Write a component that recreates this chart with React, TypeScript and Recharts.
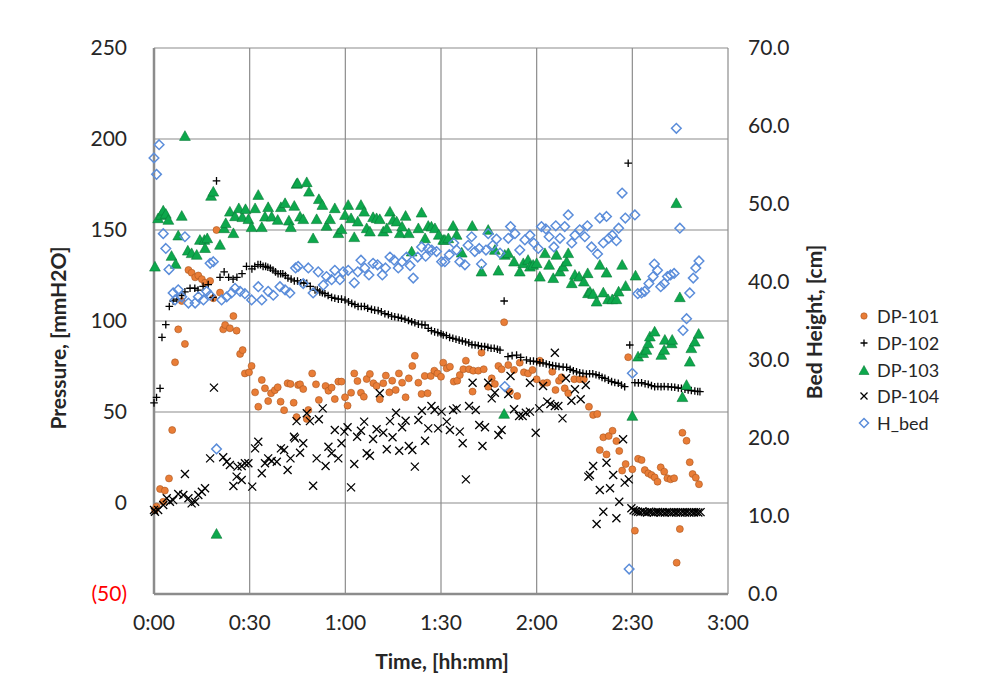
import React from "react";
import {
  ScatterChart,
  Scatter,
  XAxis,
  YAxis,
  CartesianGrid,
  Legend,
} from "recharts";

// time in minutes
const xTicks = [0, 30, 60, 90, 120, 150, 180];
const xTickLabels = ["0:00", "0:30", "1:00", "1:30", "2:00", "2:30", "3:00"];
const leftTicks = [-50, 0, 50, 100, 150, 200, 250];
const rightTicks = [0, 10, 20, 30, 40, 50, 60, 70];

const dp101 = [
  [0.3, -3.8], [0.8, -2], [1.9, 7.7], [2.9, 0.7], [3.4, 6.8], [4.7, 13.5], [5.7, 40.1], [6.6, 77.3],
  [7.6, 95.4], [8.7, 111], [9.7, 87.4], [10.8, 128], [11.8, 126.5], [12.9, 124], [13.9, 125], [15, 123],
  [16, 121], [17.6, 122], [18.6, 112.5], [19.6, 150], [20.7, 115.6], [21.7, 95.4], [22.3, 97.8], [23.8, 96],
  [24.9, 102.7], [25.9, 94.7], [27, 81.9], [27.8, 84], [28.5, 71.2], [29.8, 71.8], [30.6, 75.3], [31.7, 60.8],
  [32.7, 52.9], [33.8, 67.6], [34.8, 63], [35.8, 56], [36.7, 60.3], [37.9, 62], [38.8, 63.6], [39.7, 55.7],
  [40.8, 51], [41.9, 65.8], [42.8, 65.4], [43.8, 55.1], [44.7, 47.2], [45.2, 64.8], [45.8, 65.2], [46.8, 62.6],
  [47.9, 46.2], [48.4, 51.1], [49.6, 71.2], [50.8, 65.2], [51.7, 56.6], [53.8, 64.3], [54.7, 61.7], [55.7, 63.4],
  [56.7, 57.1], [57.8, 66.7], [58.8, 66.7], [59.9, 58.1], [60.7, 53.5], [61.8, 60.6], [62.8, 71.2], [63.8, 67],
  [64.9, 60.6], [65.8, 58.4], [66.7, 68.1], [67.7, 70.9], [68.8, 65.8], [69.8, 64.3], [70.8, 57], [71.9, 65.8],
  [72.7, 70], [73.8, 60.8], [74.7, 67.2], [75.8, 62.1], [76.8, 71.2], [77.8, 66.1], [78.9, 58.1], [79.9, 68.5],
  [81, 75.3], [81.8, 80.9], [82.9, 66.1], [83.9, 59.9], [84.9, 69.8], [85.8, 60.3], [86.8, 69.8], [87.9, 72.7],
  [88.9, 71.2], [90, 69.4], [90.7, 77.1], [91.8, 74], [92.8, 74.9], [94, 66.7], [95.1, 67.2], [95.9, 70.3],
  [97, 73.5], [97.8, 78.2], [98.8, 73.5], [99.9, 61.2], [100.1, 72.7], [101.7, 72.7], [102.7, 82.6], [103.4, 73.5],
  [104.8, 63.9], [105.9, 68.5], [106.9, 65.4], [108, 75.3], [109, 73.5], [109.8, 99.3], [111.1, 75.8], [111.6, 61.2],
  [112.9, 73.1], [113.9, 58.8], [114.7, 77.1], [116, 71.8], [117.3, 71.2], [118.7, 73.1], [120, 68], [121, 78.2],
  [122, 65.8], [123.3, 66.1], [124.9, 72.1], [125.9, 62.1], [127, 67.2], [127.8, 69.1], [128.8, 63], [129.9, 60.3],
  [131.8, 68], [133.5, 68], [134.8, 68], [136.4, 52.9], [137.7, 48.4], [139, 48.9], [139.8, 29.1], [140.9, 36.1],
  [141.9, 26.7], [142.6, 36.8], [143.8, 39.7], [145, 34], [145.9, 28.6], [146.8, 17.8], [147.9, 21.4], [148.7, 80.1],
  [150, 18.5], [150.8, -15.2], [151.8, 24.3], [152.9, 23.6], [153.9, 18.1], [155, 16.3], [156, 15.4], [157, 14.1],
  [157.9, 11.7], [158.9, 19.6], [160, 17.2], [161, 13.6], [162, 13], [163.1, 13.6], [163.9, -32.8], [164.9, -14.3],
  [165.7, 38.6], [167, 34.2], [168, 22.4], [168.9, 15.9], [169.9, 13.9], [170.9, 10.3],
];

const dp102 = [
  [0, 55], [0.8, 58], [1.9, 63], [2.5, 91], [3.7, 98], [4.8, 108], [6, 111], [7.2, 112], [8.7, 114], [9.7, 116],
  [11.3, 118], [12.8, 118], [13.8, 117], [15.4, 119], [17, 120], [18.5, 113], [19.6, 177], [20.7, 124], [22, 127],
  [23.4, 124], [24.8, 123], [26, 124], [27.6, 126], [29, 130], [30.7, 128.6], [31.6, 130], [32.6, 131], [33.4, 131],
  [34.2, 130], [35, 130], [35.7, 129.5], [36.5, 129], [37.3, 128], [38.1, 127], [38.9, 126], [39.7, 126], [40.4, 126],
  [41.2, 125], [42, 123.6], [43, 123], [44, 122], [45, 122], [46, 121], [47, 121], [47.9, 120.7], [49, 119],
  [50.5, 117], [51.2, 117], [52, 116], [52.8, 115.5], [53.6, 115], [54.6, 114], [55.7, 113], [56.7, 112.5],
  [57.8, 112], [58.8, 112], [59.9, 111.5], [61, 110.5], [62, 109.7], [63, 109], [64, 108], [65, 108], [66, 108],
  [67, 107], [68.2, 106.4], [69.2, 106], [70.3, 105.7], [71.3, 105], [72.4, 104], [73.5, 103.5], [74.5, 102.7],
  [75.5, 102.3], [76.6, 102], [77.6, 101.5], [78.7, 101], [79.8, 100.3], [80.8, 99.6], [81.8, 99], [82.9, 98.3],
  [84, 98], [85, 97.8], [86, 96], [87, 94.7], [88, 94], [89, 93.6], [90, 93], [90.7, 92.3], [91.7, 92], [92.7, 91],
  [93.7, 90.5], [94.7, 90], [95.7, 89.5], [96.7, 89], [97.7, 88.5], [98.7, 88], [99.7, 87], [100.7, 86.8],
  [101.7, 86.5], [102.7, 86], [103.7, 86], [104.7, 85.5], [105.7, 85], [106.7, 85], [107.7, 84.5], [108.5, 84],
  [109.8, 111], [111, 80.4], [112.3, 81], [113.7, 81.3], [115, 80], [116.8, 78.6], [118, 78], [119, 78], [120, 77.6],
  [121, 77], [122, 77], [123, 76.4], [124, 76], [125, 75.5], [126, 75.3], [127, 75], [128.3, 74.7], [129.4, 74.5],
  [130.5, 73.5], [131.5, 72.7], [132.5, 72.1], [133.5, 71.5], [134.5, 71.2], [135.6, 70.9], [136.6, 71], [137.6, 71],
  [138.6, 70.5], [139.6, 70], [140.5, 69], [141.4, 68.5], [142.5, 67.5], [143.5, 66.7], [144.5, 66.2], [145.6, 65.8],
  [146.6, 64.8], [147.6, 63.9], [148.7, 186.7], [149.2, 86.8], [150.8, 66.1], [151.9, 66], [152.9, 66.1], [154, 65.5],
  [155, 65.2], [156, 64.5], [157, 63.9], [158, 64], [159, 63.9], [160, 64], [161.2, 63.9], [162.3, 63.7], [163.3, 63.6],
  [164.4, 63.2], [165.4, 63], [166.5, 62.5], [167.5, 62.1], [168.5, 61.8], [169.6, 61.5], [170.5, 61.3], [171.2, 61.2],
];

const dp103 = [
  [0.3, 129.8], [1.3, 156.4], [2.2, 158.2], [2.9, 160.6], [3.7, 158.8], [4.5, 155.5], [5.5, 135.7], [6.8, 131.3],
  [7.6, 146.9], [8.7, 157.7], [9.7, 201.6], [10.6, 138.6], [11.8, 137.2], [13.4, 136.3], [14.4, 144.5], [15.8, 144.5],
  [16, 140], [16.7, 145.4], [17.9, 168.7], [18.6, 171], [19.6, -17], [20.7, 141.8], [22, 150.9], [22.5, 153.7],
  [23.8, 160], [24.9, 148.2], [25.4, 157.5], [26.6, 161.9], [27.7, 157], [28.7, 161.4], [29.6, 155.9], [30.6, 151.5],
  [31.7, 161.9], [32.7, 169.2], [33.8, 151.5], [34.8, 157.3], [35.8, 162.5], [36.9, 157.3], [38.8, 155.5], [39.8, 162.5],
  [41.1, 164.7], [42.3, 155.1], [42.9, 151.5], [44, 163.2], [44.7, 175.3], [45, 175.7], [45.8, 157.3], [46.8, 155.9],
  [47.9, 176.2], [48.6, 171], [49.9, 145.4], [51, 155.9], [51.7, 166.9], [52.8, 163.7], [54.1, 152.2], [55.2, 155.9],
  [56.7, 161.9], [57.8, 148.2], [58.8, 150.4], [59.9, 158.2], [60.9, 163.7], [61.8, 156.4], [62.8, 146], [63.9, 154.6],
  [64.9, 163.7], [65.9, 160], [66.7, 150.9], [67.7, 149.1], [68.7, 157], [69.8, 156.4], [70.8, 155.9], [71.9, 149.1],
  [73, 150.9], [74, 160], [75, 155.5], [76.1, 154.6], [77.1, 148.2], [77.8, 151.8], [78.9, 157.7], [79.9, 148.2],
  [80.8, 138.1], [82.9, 150.9], [83.9, 159.5], [85, 145.4], [86, 152.2], [87, 151.8], [88.1, 150.9], [89.3, 147.3],
  [90.7, 144.5], [91.2, 144.5], [92.3, 145.4], [93.8, 152.2], [94.9, 147.3], [96.5, 137.5], [99.8, 152.2], [102.7, 127.1],
  [104.8, 150], [106.9, 139], [108, 127.6], [109.8, 48.9], [110, 136.3], [111.1, 137.2], [112.9, 132.6], [114.7, 127.1],
  [115.8, 131.7], [117.3, 133.5], [117.9, 129.8], [118.9, 130.8], [120, 131.7], [121, 124.3], [122.6, 137.2], [123.9, 130.8],
  [125.2, 123.5], [126.2, 136.3], [127.3, 127.1], [128.3, 129.8], [129.4, 132.6], [129.9, 137.2], [131, 120.7], [132, 125.3],
  [133.3, 124.3], [134.8, 121.6], [136, 126.2], [136.1, 115.2], [136.7, 116.1], [137.7, 114.8], [138.8, 110.6], [139.8, 130.8],
  [140.9, 115.6], [141.9, 126.5], [142.4, 111.9], [143.7, 111.9], [145, 111.9], [145.7, 116.1], [146.8, 130.8], [147.9, 119.2],
  [150, 47.8], [151, 124.9], [151.8, 80.4], [153.4, 82.3], [154.4, 84.1], [155, 87.7], [155.5, 91.4], [157, 94.1],
  [159.1, 81.3], [160, 84.1], [160.2, 89.6], [162.3, 87.7], [162.5, 89.6], [163.8, 164.7], [164.9, 113], [165.7, 58.1],
  [167, 64.8], [168, 77.6], [168.5, 85], [169.6, 88.6], [170.8, 92.9],
];

const dp104 = [
  [0, -3.8], [0.3, -4.8], [1.3, -3.8], [2.9, -1.1], [4, 2.6], [5, 0.7], [6, 1.6], [7.6, 4.9], [9.2, 4.4], [9.7, 15.9],
  [10.8, 2.6], [11.8, -0.2], [12.9, 0.7], [13.9, 4.4], [15, 6.2], [16, 8.1], [17.6, 24.5], [18.8, 63.4], [21.7, 25.1],
  [22.8, 22.7], [23.8, 20.9], [24.9, 9.3], [25.9, 14.5], [26.2, 20], [27.5, 20.3], [27.5, 12.6], [28.5, 21.8], [29.6, 21.8],
  [30.8, 9], [31.7, 30], [32.7, 33.7], [33.8, 16.3], [34.8, 21.8], [35.8, 24.5], [36.9, 23.1], [38.5, 22.7], [39.8, 30],
  [40.8, 29.1], [41.9, 18.1], [42.8, 24.5], [43.9, 36.4], [44.2, 35.5], [44.7, 45], [45.8, 27.6], [46.8, 32.8], [47.9, 49.3],
  [48.9, 45], [49.9, 9.5], [51, 24.5], [51.7, 46], [52.9, 52], [53.8, 20.3], [54.7, 30.9], [55.7, 27.3], [56.7, 40.1],
  [57.8, 24.5], [58.8, 32.8], [59.7, 39.2], [60.7, 41.6], [61.8, 8.6], [62.8, 21.4], [63.7, 36.4], [64.9, 39.7], [65.9, 44.7],
  [66.7, 27.3], [67.7, 26], [68.7, 35.2], [69.8, 40.5], [70.8, 60.3], [71.9, 38.6], [73, 29.5], [74, 45], [74.8, 36.1],
  [75.9, 49.6], [76.9, 28.7], [77.8, 41.6], [78.9, 45.2], [79.9, 31.3], [81, 29.1], [81.8, 20], [82.9, 45.6], [84, 50.7],
  [85, 34.2], [86, 41], [87, 53.3], [88, 51.1], [89.1, 41], [90.2, 50.2], [91.8, 44.7], [92.8, 40.1], [93.8, 51.1], [94.9, 52],
  [95.9, 39.2], [96.8, 32.8], [97.8, 13], [98.8, 53.3], [99.9, 66.1], [100.9, 51.1], [102, 42.9], [103, 31.3], [103.8, 41.6],
  [104.8, 66.1], [105.9, 57.5], [106.9, 60.6], [108, 37.4], [109, 40.1], [111.1, 59.9], [111.8, 69.8], [112.9, 51.5],
  [114.5, 47.8], [115.6, 47.8], [116.6, 49.6], [117.9, 50.2], [117.9, 66.1], [119.7, 38.6], [120.8, 52], [122, 64.3],
  [123.3, 55.7], [124.3, 54.4], [125.7, 82.6], [125.7, 53.3], [126.8, 53.3], [128.1, 46.5], [129.2, 68.5], [130.9, 56.2],
  [132, 62.5], [133.8, 57], [135.4, 64.8], [136.2, 14.5], [136.7, 15.4], [137.7, 20.3], [138.8, -11.5], [139.8, 7.1],
  [140.9, -4.8], [141.9, 22.1], [143, 8.1], [144, 15.4], [145, -8.4], [145.9, 0.7], [147.1, 35], [147.6, 11.2], [148.9, 13],
  [149.7, -2.9], [150.4, -4], [151.1, -4.5], [151.8, -4.8], [152.5, -5], [153.2, -4.6], [153.9, -5], [154.6, -5.2],
  [155.3, -4.8], [156, -5], [156.7, -5.3], [157.4, -5], [158.1, -4.9], [158.8, -5.2], [159.5, -5], [160.2, -5.3], [160.9, -5],
  [161.6, -5.1], [162.3, -5.3], [163, -5], [163.7, -5.2], [164.4, -5], [165.1, -5.3], [165.8, -5], [166.5, -5.2], [167.2, -5],
  [167.9, -5.3], [168.6, -5], [169.3, -5.2], [170, -5], [170.7, -5.2], [171.4, -5],
];

// bed height in cm (right axis)
const hBed = [
  [0, 55.9], [0.8, 53.8], [1.6, 57.6], [2.9, 46.2], [3.7, 44.3], [4.7, 41.6], [6, 38.6], [6.6, 37.7], [7.6, 39], [8.7, 38.1],
  [9.7, 45.8], [10.8, 37.3], [12.9, 37.3], [13.9, 38.1], [15.5, 37.7], [16.5, 38.8], [17.6, 42.4], [17.6, 38.3], [18.6, 42.6],
  [19.6, 18.6], [21.2, 37.7], [22.8, 38.1], [24.3, 38.6], [25.4, 39.2], [27, 38.8], [28.5, 38.5], [30.6, 37.7], [32.7, 39.4],
  [33.8, 37.7], [35.8, 38.8], [37.4, 38.3], [39.5, 39.4], [41.1, 39], [42.6, 38.6], [44.4, 41.8], [45.2, 42], [46.8, 39.8],
  [48.4, 41.8], [49.9, 38.6], [51.5, 41.3], [53.1, 39.6], [54.1, 40.7], [55.7, 40.3], [56.7, 41.5], [58.3, 40.3], [59.3, 41.3],
  [60.9, 41.5], [62.8, 39.9], [63.9, 41.3], [64.9, 42.8], [66.1, 41.8], [67.4, 40.9], [68.7, 42.4], [70.1, 42.2], [71.6, 40.9],
  [72.6, 41.8], [74, 43.2], [75.3, 42.8], [76.6, 41.8], [77.8, 42.6], [79.2, 43.2], [80.3, 42.1], [81.3, 40.5], [82.7, 43.2],
  [83.9, 44.5], [85.2, 43.3], [86, 44.3], [87.1, 44.1], [88.6, 43.9], [90.2, 42.6], [91.2, 42.6], [92.6, 43.5], [94, 45],
  [94.9, 44.1], [95.9, 42.6], [97.5, 42.2], [98.5, 44.7], [99.6, 45.8], [100.6, 43.9], [102, 44.3], [102.7, 42.3], [104.1, 44.1],
  [104.8, 46.2], [106.2, 44.7], [107.4, 45.5], [108.5, 43.7], [110, 26.6], [111.1, 45.6], [111.8, 47.1], [113.2, 46.2],
  [114.7, 44.1], [116.3, 45.4], [117.9, 46], [119.1, 45], [120.5, 44.3], [121.5, 47.1], [122.9, 46.8], [123.9, 45.8],
  [125.4, 44.5], [126, 47.2], [127.3, 45.6], [128.8, 47.1], [129.9, 48.6], [131, 45], [132, 46], [133.5, 46.7], [135.1, 45.8],
  [135.9, 47.2], [137.2, 44.5], [139.1, 43.6], [139.8, 48.2], [140.9, 45], [141.9, 48.4], [142.6, 45.6], [143.7, 46], [145, 45.3],
  [145.7, 46.9], [146.8, 51.4], [147.8, 48.2], [149, 3.2], [150, 28.3], [150.8, 48.6], [151.7, 38.5], [152.9, 38.6], [153.9, 38.8],
  [155.2, 39.8], [156.5, 40.7], [156.9, 42.3], [157.9, 41.5], [158.9, 39.4], [160, 39.8], [161, 40.7], [162, 40.9], [163.1, 41.1],
  [163.8, 59.7], [164.9, 46.9], [165.9, 33.8], [167, 35.3], [168, 38.6], [169.1, 40.5], [169.9, 41.8], [170.9, 42.7],
];

const toPoints = (arr: number[][]) => arr.map(([t, v]) => ({ t, v }));

const FONT = "Lato, 'Liberation Sans', sans-serif";
const TEXT = "#262626";
const GRID = "#8c8c8c";
const TICK_SIZE = 21;
const TITLE_SIZE = 21;

const ORANGE = "#E97D37";
const ORANGE_EDGE = "#A9561F";
const GREEN = "#0DA84C";
const GREEN_EDGE = "#0A7A37";
const BLUE = "#5B8DDA";

const circle = (cx: number, cy: number, r = 3.5) => (
  <circle cx={cx} cy={cy} r={r} fill={ORANGE} stroke={ORANGE_EDGE} strokeWidth={0.6} />
);
const plus = (cx: number, cy: number, a = 3.8) => (
  <path d={`M${cx - a},${cy}H${cx + a}M${cx},${cy - a}V${cy + a}`} stroke="#000" strokeWidth={1.3} fill="none" />
);
const triangle = (cx: number, cy: number, s = 5.4) => (
  <path
    d={`M${cx},${cy - s}L${cx + s},${cy + s * 0.8}L${cx - s},${cy + s * 0.8}Z`}
    fill={GREEN}
    stroke={GREEN_EDGE}
    strokeWidth={0.6}
  />
);
const cross = (cx: number, cy: number, a = 4) => (
  <path d={`M${cx - a},${cy - a}L${cx + a},${cy + a}M${cx - a},${cy + a}L${cx + a},${cy - a}`} stroke="#000" strokeWidth={1.3} fill="none" />
);
const diamond = (cx: number, cy: number, s = 4.8) => (
  <path d={`M${cx},${cy - s}L${cx + s},${cy}L${cx},${cy + s}L${cx - s},${cy}Z`} fill="none" stroke={BLUE} strokeWidth={1.5} />
);

const legendItems = [
  { name: "DP-101", mark: () => circle(7, 7, 3.2) },
  { name: "DP-102", mark: () => plus(7, 7, 3.5) },
  { name: "DP-103", mark: () => triangle(7, 7.5, 5) },
  { name: "DP-104", mark: () => cross(7, 7, 3.5) },
  { name: "H_bed", mark: () => diamond(7, 7, 4.5) },
];

const LeftTick = (props: any) => {
  const { x, y, payload } = props;
  const v = payload.value;
  return (
    <text x={x} y={y} dy="0.355em" textAnchor="end" fontSize={TICK_SIZE} fontFamily={FONT} fill={v < 0 ? "#FF0000" : TEXT}>
      {v < 0 ? `(${Math.abs(v)})` : v}
    </text>
  );
};

const renderLegend = () => (
  <div style={{ fontFamily: FONT, fontSize: 18, color: TEXT }}>
    {legendItems.map((it) => (
      <div key={it.name} style={{ display: "flex", alignItems: "center", height: 26.7 }}>
        <svg width={14} height={14} style={{ overflow: "visible" }}>
          {it.mark()}
        </svg>
        <span style={{ marginLeft: 6 }}>{it.name}</span>
      </div>
    ))}
  </div>
);

const rotatedTitle = (x: number, y: number, text: string) => (
  <text
    x={x}
    y={y}
    transform={`rotate(-90 ${x} ${y})`}
    textAnchor="middle"
    dominantBaseline="central"
    fontSize={TITLE_SIZE}
    fontWeight="bold"
    fontFamily={FONT}
    fill={TEXT}
  >
    {text}
  </text>
);

export default function App() {
  return (
    <ScatterChart width={966} height={671} margin={{ top: 40, right: 166, bottom: 45, left: 56 }}>
      <CartesianGrid yAxisId="left" stroke={GRID} strokeWidth={1.2} horizontalValues={leftTicks} verticalValues={xTicks} />
      <XAxis
        type="number"
        dataKey="t"
        domain={[0, 180]}
        ticks={xTicks}
        tickFormatter={(v: number) => xTickLabels[xTicks.indexOf(v)]}
        tickLine={false}
        tickSize={0}
        tickMargin={21}
        height={40}
        axisLine={{ stroke: GRID, strokeWidth: 2.5 }}
        tick={{ fontSize: TICK_SIZE, fontFamily: FONT, fill: TEXT }}
        label={{
          content: () => (
            <text x={434} y={652} textAnchor="middle" dominantBaseline="central" fontSize={TITLE_SIZE} fontWeight="bold" fontFamily={FONT} fill={TEXT}>
              Time, [hh:mm]
            </text>
          ),
        }}
      />
      <YAxis
        yAxisId="left"
        type="number"
        dataKey="v"
        domain={[-50, 250]}
        ticks={leftTicks}
        width={90}
        tickLine={false}
        tickSize={0}
        tickMargin={27}
        axisLine={{ stroke: GRID, strokeWidth: 2.5 }}
        tick={<LeftTick />}
        label={{ content: () => rotatedTitle(49, 330, "Pressure, [mmH2O]") }}
      />
      <YAxis
        yAxisId="right"
        orientation="right"
        type="number"
        dataKey="v"
        domain={[0, 70]}
        ticks={rightTicks}
        width={80}
        tickLine={false}
        tickSize={0}
        tickMargin={20}
        axisLine={false}
        tickFormatter={(v: number) => v.toFixed(1)}
        tick={{ fontSize: TICK_SIZE, fontFamily: FONT, fill: TEXT, textAnchor: "start" }}
        label={{ content: () => rotatedTitle(805, 314, "Bed Height, [cm]") }}
      />
      <Legend
        layout="horizontal"
        verticalAlign="middle"
        content={renderLegend}
        wrapperStyle={{ left: 849, top: 295, width: 120 }}
      />
      <Scatter name="DP-101" yAxisId="left" data={toPoints(dp101)} isAnimationActive={false} shape={(p: any) => circle(p.cx, p.cy)} />
      <Scatter name="DP-102" yAxisId="left" data={toPoints(dp102)} isAnimationActive={false} shape={(p: any) => plus(p.cx, p.cy)} />
      <Scatter name="DP-103" yAxisId="left" data={toPoints(dp103)} isAnimationActive={false} shape={(p: any) => triangle(p.cx, p.cy)} />
      <Scatter name="DP-104" yAxisId="left" data={toPoints(dp104)} isAnimationActive={false} shape={(p: any) => cross(p.cx, p.cy)} />
      <Scatter name="H_bed" yAxisId="right" data={toPoints(hBed)} isAnimationActive={false} shape={(p: any) => diamond(p.cx, p.cy)} />
    </ScatterChart>
  );
}
